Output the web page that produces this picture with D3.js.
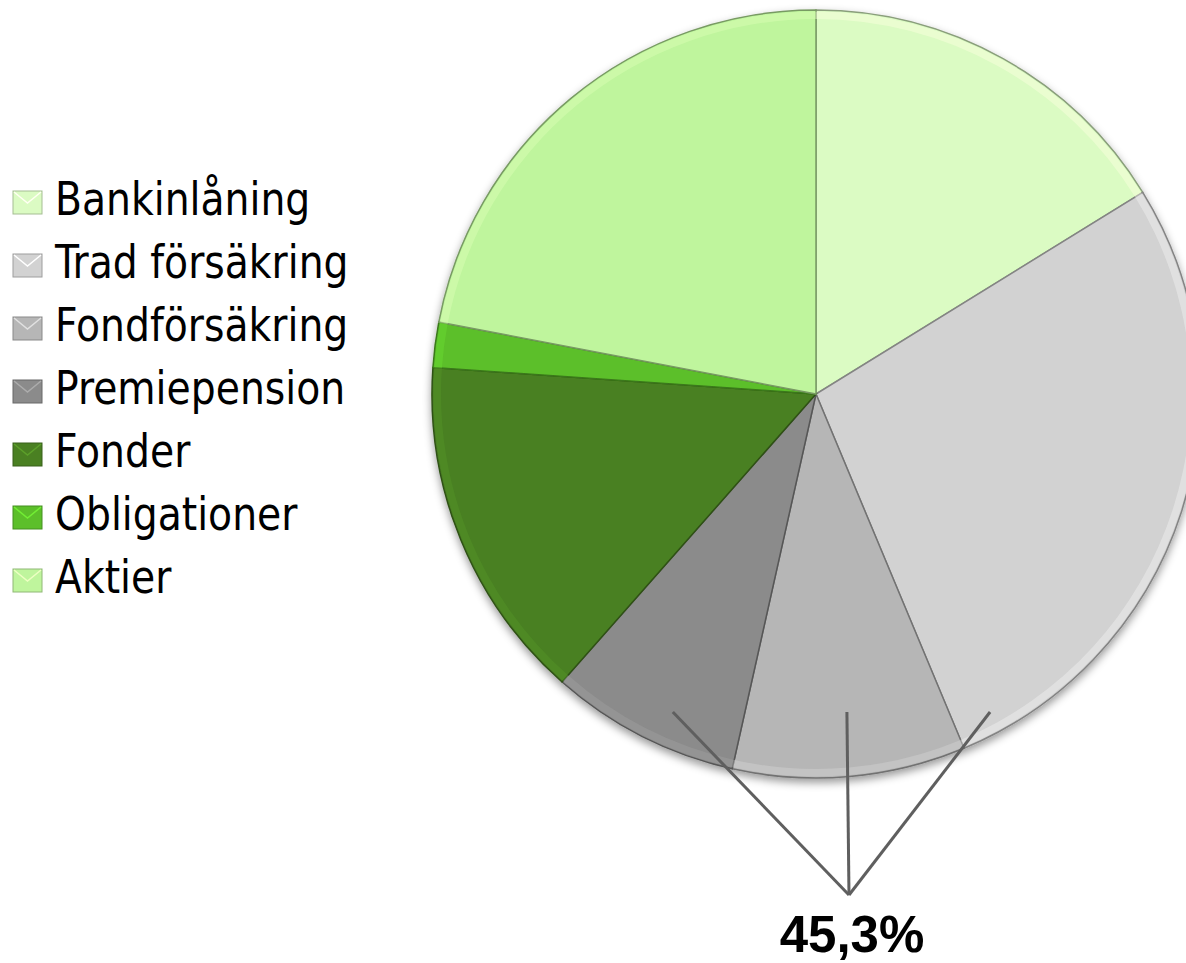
<!DOCTYPE html>
<html>
<head>
<meta charset="utf-8">
<script src="https://cdn.jsdelivr.net/npm/d3@7"></script>
<style>
  body { margin: 0; background: #fff; }
  svg { display: block; }
</style>
</head>
<body>
<svg id="chart" width="1186" height="963"></svg>
<script>
// data (percent)
const categories = ['Bankinlåning', 'Trad försäkring', 'Fondförsäkring', 'Premiepension', 'Fonder', 'Obligationer', 'Aktier'];
const values = [16.2, 27.5, 9.8, 8.0, 14.6, 1.9, 22.0];
const colors = ['#dbfbc3', '#d2d2d2', '#b6b6b6', '#8b8b8b', '#4a8022', '#5cbf2a', '#bff59d'];
const highlighted = ['Trad försäkring', 'Fondförsäkring', 'Premiepension'];
const calloutLabel = '45,3%';

const data = categories.map((c, i) => ({name: c, value: values[i], color: colors[i]}));

const svg = d3.select('#chart');
const cx = 816, cy = 394, r = 384;

const defs = svg.append('defs');
const sh = defs.append('filter').attr('id', 'shadow')
    .attr('x', '-10%').attr('y', '-10%').attr('width', '120%').attr('height', '120%');
sh.append('feDropShadow').attr('dx', 0).attr('dy', 4).attr('stdDeviation', 4)
    .attr('flood-color', '#000').attr('flood-opacity', 0.4);

const pie = d3.pie().sort(null).value(d => d.value);
const arcs = pie(data);
const arc = d3.arc().innerRadius(0).outerRadius(r);

const g = svg.append('g').attr('transform', `translate(${cx},${cy})`);

const pieGroup = g.append('g').attr('filter', 'url(#shadow)');
pieGroup.selectAll('path.slice')
    .data(arcs)
    .join('path')
    .attr('class', 'slice')
    .attr('d', arc)
    .attr('fill', d => d.data.color)
    .attr('stroke', d => d3.color(d.data.color).darker(1.3))
    .attr('stroke-width', 1.5);

// light rim along the outer edge, like the bevel in the original
g.selectAll('path.rim')
    .data(arcs)
    .join('path')
    .attr('class', 'rim')
    .attr('d', d3.arc().innerRadius(r - 9).outerRadius(r - 1.5))
    .attr('fill', d => d3.color(d.data.color).brighter(0.4))
    .attr('opacity', 0.45);

// callout lines: start in the middle of each slice's chord at a fixed height
const lineY = 712 - cy;
const target = [849 - cx, 895 - cy];
function chordMid(d) {
    const xs = [];
    const span = Math.sqrt(r * r - lineY * lineY);
    [d.startAngle, d.endAngle].forEach(a => {
        const dy = -Math.cos(a);
        if (dy > 0) {
            const x = Math.sin(a) * (lineY / dy);
            if (Math.abs(x) <= span) xs.push(x);
        }
    });
    [-span, span].forEach(x => {
        let a = Math.atan2(x, -lineY);
        if (a < 0) a += 2 * Math.PI;
        if (a >= d.startAngle && a <= d.endAngle) xs.push(x);
    });
    return (d3.min(xs) + d3.max(xs)) / 2;
}
const hl = arcs.filter(d => highlighted.includes(d.data.name));
g.selectAll('line.callout')
    .data(hl)
    .join('line')
    .attr('class', 'callout')
    .attr('x1', d => chordMid(d))
    .attr('y1', lineY)
    .attr('x2', target[0])
    .attr('y2', target[1])
    .attr('stroke', '#5f5f5f')
    .attr('stroke-width', 3);

svg.append('text')
    .attr('x', 852).attr('y', 952)
    .attr('text-anchor', 'middle')
    .attr('font-family', 'Liberation Sans, Arial, sans-serif')
    .attr('font-weight', 'bold')
    .attr('font-size', 51)
    .attr('fill', '#000')
    .text(calloutLabel);

// legend
const legend = svg.append('g').attr('transform', 'translate(13,215)');
const rows = legend.selectAll('g.item')
    .data(data)
    .join('g')
    .attr('class', 'item')
    .attr('transform', (d, i) => `translate(0,${i * 63})`);

rows.append('rect')
    .attr('x', 0).attr('y', -24).attr('width', 29).attr('height', 23)
    .attr('fill', d => d.color)
    .attr('stroke', d => d3.color(d.color).darker(0.8))
    .attr('stroke-width', 1);

rows.append('path')
    .attr('d', 'M1,-23 L14.5,-12 L28,-23')
    .attr('fill', 'none')
    .attr('stroke', d => d3.color(d.color).brighter(0.6))
    .attr('stroke-width', 1.5);

rows.append('text')
    .attr('transform', 'translate(42,0) scale(0.95,1)')
    .attr('font-family', 'DejaVu Sans Condensed, sans-serif')
    .attr('font-size', 46)
    .attr('fill', '#000')
    .text(d => d.name);
</script>
</body>
</html>
